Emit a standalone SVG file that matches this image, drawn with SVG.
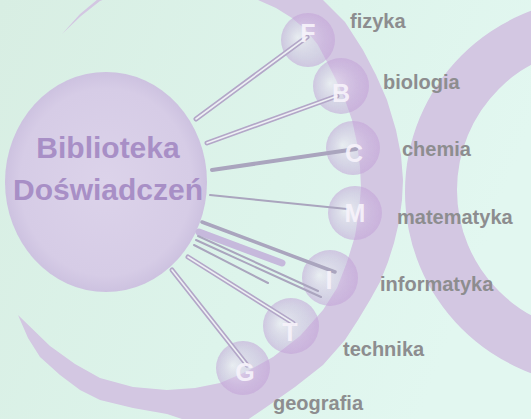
<svg xmlns="http://www.w3.org/2000/svg" width="531" height="419" viewBox="0 0 531 419">
<defs>
<linearGradient id="bg" x1="0" y1="0" x2="1" y2="0.3">
<stop offset="0" stop-color="#d8eee3"/>
<stop offset="0.6" stop-color="#ddf4eb"/>
<stop offset="1" stop-color="#e2f7f0"/>
</linearGradient>
<radialGradient id="big" cx="0.5" cy="0.5" r="0.5">
<stop offset="0" stop-color="#dcd3ea"/>
<stop offset="0.85" stop-color="#d6cce6"/>
<stop offset="1" stop-color="#cdc2e0"/>
</radialGradient>
<radialGradient id="sc" cx="0.5" cy="0.5" r="0.5" fx="0.3" fy="0.45">
<stop offset="0" stop-color="#efe9f5" stop-opacity="0.6"/>
<stop offset="0.7" stop-color="#c7aadb" stop-opacity="0.45"/>
<stop offset="1" stop-color="#c2a1d7" stop-opacity="0.55"/>
</radialGradient>
<filter id="soft" x="-5%" y="-5%" width="110%" height="110%"><feGaussianBlur stdDeviation="0.7"/></filter>
<style>
.band{fill:#d3c7e2}
.sc{fill:url(#sc)}
.dbl{stroke:#b3a7c8;stroke-width:5;stroke-linecap:round;fill:none}
.dbl-in{stroke:#eef0f4;stroke-width:1.6;stroke-linecap:round;fill:none}
.solid{stroke:#aaa5be;stroke-linecap:round;fill:none}
.lbl{font-family:"Liberation Sans",Arial,sans-serif;font-weight:bold;font-size:20px;fill:#8d8d8f}
.ltr{font-family:"Liberation Sans",Arial,sans-serif;font-weight:bold;font-size:25px;fill:#f7f3fb;fill-opacity:0.92;text-anchor:middle}
.title{font-family:"Liberation Sans",Arial,sans-serif;font-weight:bold;font-size:30px;fill:#a88fc6;text-anchor:middle}
</style>
</defs>
<rect width="531" height="419" fill="url(#bg)"/>
<g id="shapes" filter="url(#soft)">
<path id="ring" class="band" fill-rule="evenodd" d="M405,192 A193,193 0 1,0 791,192 A193,193 0 1,0 405,192 Z M457,190 A143,143 0 1,0 743,190 A143,143 0 1,0 457,190 Z"/>
<path id="crescent" class="band" d="M18,315 L50,346 L75,364 L100,378 L133,387 L167,390 L195,388 L220,383 L248,371 L273,357 L300,336 L323,310 L337,288 L347,262 L355,236 L359,210 L361,188 L360,167 L357,143 L352,120 L345,100 L336,80 L327,62 L318,45 L306,30 L292,18 L276,8 L258,0 L230,-12 L190,-20 L150,-16 L118,-6 L100,1 L81,16 L62,34 L80,14 L98,-1 L130,-25 L180,-40 L240,-38 L290,-20 L323,0 L345,22 L363,50 L376,75 L387,100 L396,130 L401,155 L403,180 L402,200 L399,222 L394,243 L388,262 L380,282 L370,300 L358,320 L345,340 L323,365 L295,387 L265,408 L240,425 L200,425 L167,414 L133,408 L100,400 L80,390 L60,375 L40,357 L28,338 Z"/>
<ellipse id="library" cx="106" cy="182" rx="101" ry="110" fill="url(#big)"/>
</g>
<g id="nodes" filter="url(#soft)">
<g id="node-F"><circle class="sc" cx="308" cy="40" r="27"/></g>
<g id="node-B"><circle class="sc" cx="341" cy="86" r="28"/></g>
<g id="node-C"><circle class="sc" cx="353" cy="148" r="27"/></g>
<g id="node-M"><circle class="sc" cx="355" cy="213" r="27"/></g>
<g id="node-I"><circle class="sc" cx="330" cy="278" r="28"/></g>
<g id="node-T"><circle class="sc" cx="291" cy="326" r="28"/></g>
<g id="node-G"><circle class="sc" cx="243" cy="368" r="27"/></g>
</g>
<g id="connectors" filter="url(#soft)">
<line class="dbl" x1="196" y1="119" x2="307" y2="37"/><line class="dbl-in" x1="196" y1="119" x2="307" y2="37"/>
<line class="dbl" x1="207" y1="143" x2="337" y2="96"/><line class="dbl-in" x1="207" y1="143" x2="337" y2="96"/>
<line class="solid" stroke-width="4" x1="212" y1="170" x2="356" y2="149"/>
<line class="solid" stroke-width="2" x1="210" y1="195" x2="347" y2="209"/>
<line class="solid" stroke-width="3.5" x1="202" y1="222" x2="335" y2="272"/>
<line stroke="#c6b9dc" stroke-width="7" stroke-linecap="round" x1="199" y1="232" x2="282" y2="263"/>
<line class="solid" stroke-width="2" x1="198" y1="236" x2="318" y2="291"/>
<line class="solid" stroke-width="2" x1="196" y1="240" x2="321" y2="297"/>
<line class="solid" stroke-width="2" x1="194" y1="245" x2="268" y2="283"/>
<line class="dbl" x1="188" y1="257" x2="293" y2="323"/><line class="dbl-in" x1="188" y1="257" x2="293" y2="323"/>
<line class="dbl" x1="172" y1="270" x2="247" y2="365"/><line class="dbl-in" x1="172" y1="270" x2="247" y2="365"/>
</g>
<g id="letters">
<text class="ltr" x="308" y="42">F</text>
<text class="ltr" x="341" y="102">B</text>
<text class="ltr" x="354" y="162">C</text>
<text class="ltr" x="355" y="222">M</text>
<text class="ltr" x="329" y="289">I</text>
<text class="ltr" x="290" y="341">T</text>
<text class="ltr" x="245" y="381">G</text>
</g>
<g id="title">
<text class="title" x="108" y="158">Biblioteka</text>
<text class="title" x="108" y="200">Doświadczeń</text>
</g>
<g id="labels">
<text class="lbl" x="350" y="28">fizyka</text>
<text class="lbl" x="383" y="89">biologia</text>
<text class="lbl" x="402" y="156">chemia</text>
<text class="lbl" x="397" y="224">matematyka</text>
<text class="lbl" x="380" y="291">informatyka</text>
<text class="lbl" x="343" y="356">technika</text>
<text class="lbl" x="273" y="410">geografia</text>
</g>
</svg>
